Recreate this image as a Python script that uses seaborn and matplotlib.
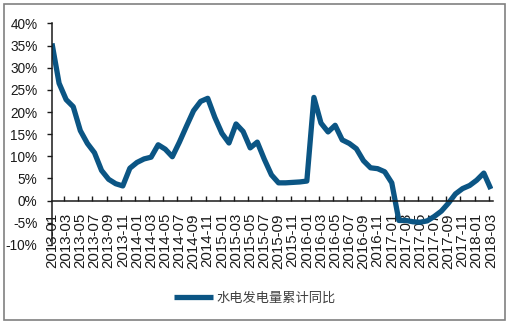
import numpy as np
import pandas as pd
import matplotlib
matplotlib.use("Agg")
import matplotlib.pyplot as plt
from matplotlib.patches import Rectangle
import seaborn as sns

# Monthly cumulative YoY growth of hydropower generation, 2013-01 .. 2018-03 (%)
months = pd.date_range("2013-01", "2018-03", freq="MS").strftime("%Y-%m").tolist()
growth = [
    35.5, 26.5, 22.8, 21.2, 15.8, 12.9, 10.8, 6.8, 4.8, 3.8, 3.3, 7.3,
    8.6, 9.4, 9.8, 12.6, 11.6, 9.9, 13.2, 16.8, 20.3, 22.4, 23.1, 18.8,
    15.2, 13.0, 17.3, 15.6, 11.9, 13.2, 9.3, 5.8, 4.0, 4.0, 4.1, 4.2,
    4.4, 23.3, 17.5, 15.5, 17.0, 13.7, 12.9, 11.7, 9.0, 7.4, 7.2, 6.5,
    4.0, -4.5, -4.5, -4.8, -4.9, -4.6, -3.6, -2.4, -0.6, 1.5, 2.7, 3.4,
    4.6, 6.2, 2.6,
]
series_name = "水电发电量累计同比"
y_ticks = [-10, -5, 0, 5, 10, 15, 20, 25, 30, 35, 40]

df = pd.DataFrame({"idx": np.arange(len(months)), "value": growth})

sns.set_style("white")
plt.rcParams["font.family"] = ["Liberation Sans", "Noto Sans CJK SC", "DejaVu Sans"]

W, H = 507, 323
fig = plt.figure(figsize=(W / 100, H / 100), dpi=100)
ax = fig.add_axes([52 / W, 78.2 / H, 441 / W, 221.3 / H])

line_color = "#0B5584"
sns.lineplot(data=df, x="idx", y="value", ax=ax, color=line_color,
             linewidth=3.8, label=series_name, legend=False,
             estimator=None, sort=False)
for l in ax.lines:
    l.set_solid_joinstyle("round")
    l.set_solid_capstyle("butt")

ax.set_xlim(0, 62.3)
ax.set_ylim(-10, 40)
ax.set_xlabel("")
ax.set_ylabel("")

# x axis sits on the zero line
ax.spines["bottom"].set_position(("data", 0))
ax.spines["top"].set_visible(False)
ax.spines["right"].set_visible(False)
for s in ("left", "bottom"):
    ax.spines[s].set_color("#1a1a1a")
    ax.spines[s].set_linewidth(1.1)

label_idx = list(range(0, len(months), 2))
ax.set_xticks(label_idx)
ax.set_xticklabels([months[i] for i in label_idx], rotation=90,
                   fontsize=10.8, color="#1a1a1a")
ax.set_xticks([2 * k - 0.3 for k in range(1, 32)], minor=True)
ax.tick_params(axis="x", which="major", length=0, pad=9)
ax.tick_params(axis="x", which="minor", direction="in", length=3.5,
               width=1.0, color="#1a1a1a", bottom=True)

ax.set_yticks(y_ticks)
ax.set_yticklabels([f"{v}%" for v in y_ticks], fontsize=9.8, color="#1a1a1a")
ax.tick_params(axis="y", which="major", direction="out", length=3.5,
               width=1.0, color="#1a1a1a", left=True, pad=7)
ax.grid(False)

handles, labels = ax.get_legend_handles_labels()
leg = fig.legend(handles, labels, loc="center", bbox_to_anchor=(255 / W, 1 - 298 / H),
                 frameon=False, handlelength=2.9, handletextpad=0.3,
                 prop={"family": ["Noto Sans CJK SC", "DejaVu Sans"], "size": 9.5})
for t in leg.get_texts():
    t.set_color("#404040")
for h in leg.get_lines():
    h.set_linewidth(3.8)

# outer frame around the whole chart
fig.patches.append(Rectangle((3.5 / W, 3.5 / H), 501 / W, 316 / H,
                             transform=fig.transFigure, fill=False,
                             edgecolor="#808080", linewidth=1.2))

fig.savefig("out.png", dpi=100)
